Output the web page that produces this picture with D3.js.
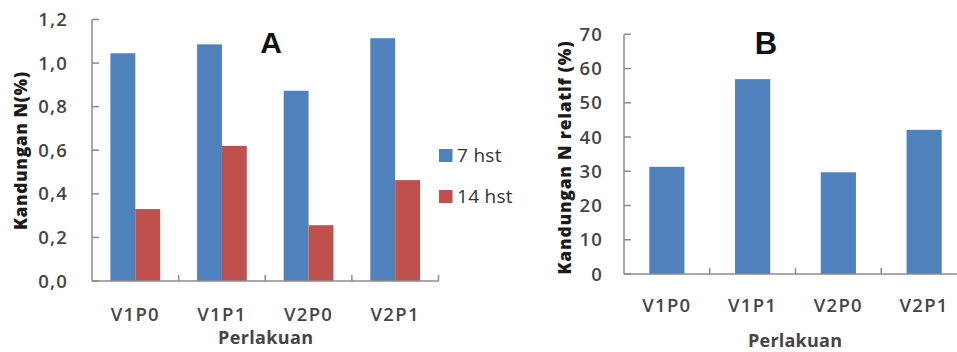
<!DOCTYPE html>
<html>
<head>
<meta charset="utf-8">
<script src="https://cdn.jsdelivr.net/npm/d3@7"></script>
<style>
  html, body { margin: 0; padding: 0; background: #fff; }
  svg { display: block; }
  text { font-family: "Open Sans", "Liberation Sans", sans-serif; }
</style>
</head>
<body>
<svg id="chart" width="957" height="352"></svg>
<script>
// Treatments shared by both panels
const categories = ["V1P0", "V1P1", "V2P0", "V2P1"];

// Panel A: N content (%) after 7 and 14 days
const seriesNames = ["7 hst", "14 hst"];
const nContent7 = [1.045, 1.086, 0.873, 1.114];
const nContent14 = [0.33, 0.62, 0.256, 0.463];
const ticksA = [0, 0.2, 0.4, 0.6, 0.8, 1.0, 1.2];

// Panel B: relative N content (%)
const nRelative = [31.3, 56.9, 29.7, 42.1];
const ticksB = [0, 10, 20, 30, 40, 50, 60, 70];

const colors = ["#4F81BD", "#C0504D"];
const axisColor = "#8c8c8c";
const labelColor = "#454545";

const svg = d3.select("#chart");
const fmtComma = d => d3.format(".1f")(d).replace(".", ",");

function drawAxes(g, x, y, ticks, fmt, labelX, catBaseline, left, right) {
  const base = y(0);
  // value axis line + inward ticks
  g.append("line").attr("x1", left).attr("x2", left)
    .attr("y1", y(ticks[ticks.length - 1])).attr("y2", base)
    .attr("stroke", axisColor).attr("stroke-width", 1.5);
  g.selectAll(".ytick").data(ticks).join("line")
    .attr("x1", left).attr("x2", left + 7)
    .attr("y1", d => y(d)).attr("y2", d => y(d))
    .attr("stroke", axisColor).attr("stroke-width", 1.5);
  g.selectAll(".ylab").data(ticks).join("text")
    .attr("x", labelX).attr("y", d => y(d)).attr("dy", "0.36em")
    .attr("text-anchor", "end")
    .attr("font-size", 18.5).attr("font-weight", 600)
    .attr("letter-spacing", 1.2)
    .attr("fill", labelColor).text(fmt);
  // category axis line + ticks at band boundaries
  g.append("line").attr("x1", left).attr("x2", right)
    .attr("y1", base).attr("y2", base)
    .attr("stroke", axisColor).attr("stroke-width", 1.5);
  const step = x.step();
  const bounds = categories.map((c, i) => left + step * (i + 1));
  g.selectAll(".xtick").data(bounds).join("line")
    .attr("x1", d => d).attr("x2", d => d)
    .attr("y1", base).attr("y2", base - 6)
    .attr("stroke", axisColor).attr("stroke-width", 1.5);
  g.selectAll(".xlab").data(categories).join("text")
    .attr("x", d => x(d) + x.bandwidth() / 2).attr("y", catBaseline)
    .attr("text-anchor", "middle")
    .attr("font-size", 18.5).attr("font-weight", 600)
    .attr("letter-spacing", 1.3)
    .attr("fill", labelColor).text(d => d);
}

// ---------- Panel A ----------
{
  const g = svg.append("g");
  const left = 92, right = 438.5;
  const y = d3.scaleLinear().domain([0, 1.2]).range([281, 19.5]);
  const x0 = d3.scaleBand().domain(categories).range([left, right])
    .paddingInner(0.426).paddingOuter(0.213);
  const x1 = d3.scaleBand().domain(seriesNames).range([0, x0.bandwidth()]);
  const rows = categories.map((c, i) => ({ c, vals: [nContent7[i], nContent14[i]] }));

  g.selectAll(".grp").data(rows).join("g")
    .attr("transform", d => `translate(${x0(d.c)},0)`)
    .selectAll("rect").data(d => d.vals.map((v, k) => ({ k, v })))
    .join("rect")
    .attr("x", d => x1(seriesNames[d.k]))
    .attr("width", x1.bandwidth())
    .attr("y", d => y(d.v))
    .attr("height", d => y(0) - y(d.v))
    .attr("fill", d => colors[d.k]);

  drawAxes(g, x0, y, ticksA, fmtComma, 68, 321, left, right);

  g.append("text").attr("transform", "translate(27,151) rotate(-90)")
    .attr("text-anchor", "middle").attr("font-size", 17.5).attr("font-weight", 800)
    .attr("textLength", 158).attr("lengthAdjust", "spacing")
    .attr("fill", "#1a1a1a").text("Kandungan N(%)");
  g.append("text").attr("x", 265.5).attr("y", 343.5)
    .attr("text-anchor", "middle").attr("font-size", 18).attr("font-weight", 700)
    .attr("textLength", 95).attr("lengthAdjust", "spacing")
    .attr("fill", labelColor).text("Perlakuan");
  g.append("text").attr("x", 271).attr("y", 52.5)
    .attr("text-anchor", "middle").attr("font-size", 30).attr("font-weight", 700)
    .style("font-family", "'Liberation Sans', Arial, sans-serif")
    .attr("fill", "#111").text("A");

  // legend
  const leg = g.selectAll(".leg").data(seriesNames).join("g")
    .attr("transform", (d, i) => `translate(439,${149 + i * 41})`);
  leg.append("rect").attr("width", 13.5).attr("height", 13).attr("fill", (d, i) => colors[i]);
  leg.append("text").attr("x", 18).attr("y", 13).attr("font-size", 19)
    .attr("letter-spacing", 0.3).attr("fill", "#333").text(d => d);
}

// ---------- Panel B ----------
{
  const g = svg.append("g");
  const left = 624, right = 967;
  const y = d3.scaleLinear().domain([0, 70]).range([274, 34.3]);
  const x = d3.scaleBand().domain(categories).range([left, right])
    .paddingInner(0.59).paddingOuter(0.295);

  g.selectAll("rect").data(categories.map((c, i) => ({ c, v: nRelative[i] })))
    .join("rect")
    .attr("x", d => x(d.c)).attr("width", x.bandwidth())
    .attr("y", d => y(d.v)).attr("height", d => y(0) - y(d.v))
    .attr("fill", colors[0]);

  drawAxes(g, x, y, ticksB, d => d, 603, 312, left, right);

  g.append("text").attr("transform", "translate(571,158) rotate(-90)")
    .attr("text-anchor", "middle").attr("font-size", 17.5).attr("font-weight", 800)
    .attr("textLength", 233).attr("lengthAdjust", "spacing")
    .attr("fill", "#1a1a1a").text("Kandungan N relatif (%)");
  g.append("text").attr("x", 795).attr("y", 347)
    .attr("text-anchor", "middle").attr("font-size", 18).attr("font-weight", 700)
    .attr("textLength", 94).attr("lengthAdjust", "spacing")
    .attr("fill", labelColor).text("Perlakuan");
  g.append("text").attr("x", 766).attr("y", 53.5)
    .attr("text-anchor", "middle").attr("font-size", 31).attr("font-weight", 700)
    .style("font-family", "'Liberation Sans', Arial, sans-serif")
    .attr("fill", "#111").text("B");
}
</script>
</body>
</html>
